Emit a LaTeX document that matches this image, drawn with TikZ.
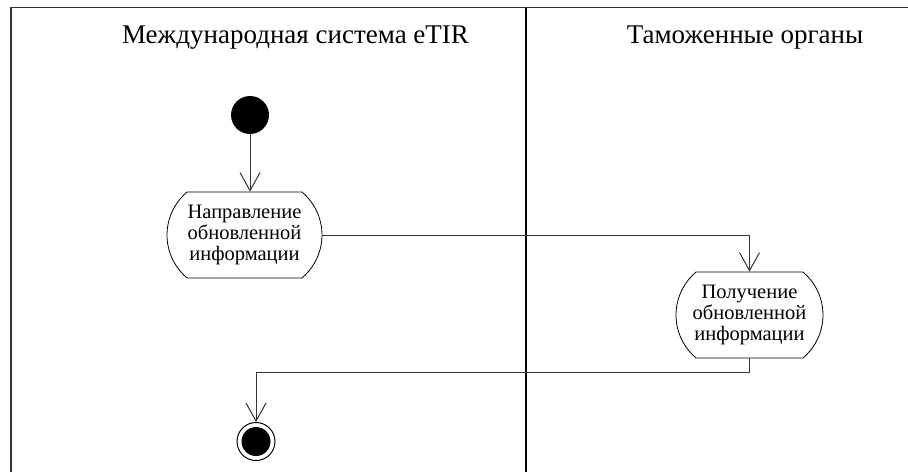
\documentclass[tikz,border=0pt]{standalone}
\usepackage{fontspec}
\setmainfont{Liberation Serif}
\usetikzlibrary{arrows.meta,shapes.misc}
\tikzset{
  lane/.style={draw=black!80, line width=1.5pt},
  divider/.style={draw=black, line width=2pt},
  title/.style={font=\fontsize{27}{29}\selectfont, anchor=base},
  act/.style={draw=black, line width=0.8pt, rounded rectangle, rounded rectangle arc length=100,
    inner sep=0pt, align=center, font=\fontsize{20.5}{21}\selectfont},
  conn/.style={draw=black!80, line width=1pt},
  arr/.style={conn, -{Straight Barb[length=18pt,width=20pt,line width=1pt]}},
}
\begin{document}
\begin{tikzpicture}[x=1pt,y=-1pt]
\useasboundingbox (0,0) rectangle (908,472);
\draw[lane] (11,472) -- (11,7.5) -- (908,7.5);
\draw[divider] (525.5,7.5) -- (525.5,472);
\node[title] (t1) at (295.5,43) {Международная система eTIR};
\node[title] (t2) at (745,43) {Таможенные органы};
\node[circle, fill=black, minimum size=38pt, inner sep=0pt] (start) at (250,115) {};
\node[act, minimum width=155pt, minimum height=86pt] (a1) at (244.5,235) {Направление\\обновленной\\информации};
\node[act, minimum width=147pt, minimum height=86pt] (a2) at (749.5,315) {Получение\\обновленной\\информации};
\node[circle, draw=black, line width=1pt, minimum size=38pt, inner sep=0pt,
  path picture={\fill[black] (path picture bounding box.center) circle (14.5pt);}] (fin) at (256,441.5) {};
\coordinate (bend) at (749.5,372);
\draw[arr] (start) -- (start |- a1.north);
\draw[arr] (a1.east) -| (a2.north);
\draw[arr] (a2.south) -- (bend) -| (fin.north);
\end{tikzpicture}
\end{document}
